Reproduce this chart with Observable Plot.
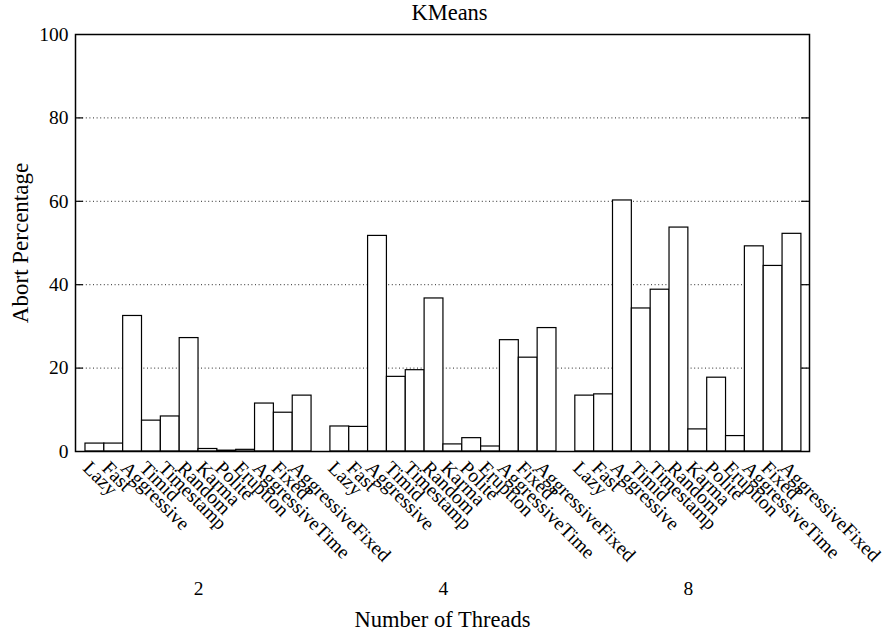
<!DOCTYPE html>
<html><head><meta charset="utf-8">
<script src="https://cdn.jsdelivr.net/npm/d3@7"></script>
<script src="https://cdn.jsdelivr.net/npm/@observablehq/plot@0.6"></script>
<style>html,body{margin:0;padding:0;background:#fff} #chart svg{display:block}</style>
</head><body><div id="chart"></div>
<script>
const title = "KMeans";
const yLabel = "Abort Percentage";
const xLabel = "Number of Threads";
const threads = ["2", "4", "8"];
const managers = ["Lazy","Fast","Aggressive","Timid","Timestamp","Random","Karma","Polite","Eruption","AggressiveTime","Fixed","AggressiveFixed"];
const values2 = [1.9, 1.9, 32.5, 7.4, 8.4, 27.2, 0.6, 0.2, 0.4, 11.5, 9.3, 13.4];
const values4 = [6.0, 5.9, 51.7, 17.9, 19.5, 36.7, 1.7, 3.2, 1.2, 26.7, 22.5, 29.6];
const values8 = [13.4, 13.7, 60.2, 34.3, 38.8, 53.7, 5.3, 17.7, 3.7, 49.2, 44.5, 52.2];
const yTicks = [0, 20, 40, 60, 80, 100];
const gridTicks = [20, 40, 60, 80];

const seriesByThread = [values2, values4, values8];
const groupStride = managers.length + 1;
const rows = [];
threads.forEach((t, gi) => {
  managers.forEach((m, i) => {
    rows.push({thread: t, manager: m, value: seriesByThread[gi][i], pos: gi * groupStride + i});
  });
});
const groups = threads.map((t, gi) => ({thread: t, pos: gi * groupStride + (managers.length - 1) / 2}));

const xMin = -1.03, xMax = 37.93;
const tickLen = 0.42;
const font = "'Liberation Serif', 'Times New Roman', Times, serif";

const chart = Plot.plot({
  width: 892,
  height: 634,
  marginLeft: 75,
  marginRight: 83,
  marginTop: 34,
  marginBottom: 183,
  style: {fontFamily: font, fontSize: "19px", color: "#000", background: "#fff"},
  x: {domain: [xMin, xMax], axis: null},
  y: {domain: [0, 100], axis: null},
  marks: [
    Plot.ruleY(gridTicks, {stroke: "#000", strokeWidth: 1, strokeDasharray: "1,2.6", strokeOpacity: 0.85}),
    Plot.rectY(rows, {x1: d => d.pos - 0.5, x2: d => d.pos + 0.5, y: "value", fill: "#fff", stroke: "#000", strokeWidth: 1.2}),
    Plot.ruleY(gridTicks, {x1: xMin, x2: xMin + tickLen, stroke: "#000", strokeWidth: 1.2}),
    Plot.ruleY(gridTicks, {x1: xMax - tickLen, x2: xMax, stroke: "#000", strokeWidth: 1.2}),
    Plot.frame({stroke: "#000", strokeWidth: 1.5}),
    Plot.axisY({ticks: yTicks, tickSize: 0, tickPadding: 7, fontSize: 19.5, label: null, fontFamily: font}),
    Plot.text(rows, {x: "pos", y: 0, text: "manager", rotate: 45, textAnchor: "start", lineAnchor: "top", dx: -3, dy: 8, fontSize: 19.5, fill: "#000"}),
    Plot.text(groups, {x: "pos", y: 0, text: "thread", dy: 137, fontSize: 19.5, fill: "#000"}),
    Plot.text([xLabel], {frameAnchor: "bottom", lineAnchor: "middle", dy: 168, fontSize: 22.5, fill: "#000"}),
    Plot.text([yLabel], {frameAnchor: "left", textAnchor: "middle", lineAnchor: "middle", rotate: -90, dx: -55, fontSize: 23, fill: "#000"}),
    Plot.text([title], {frameAnchor: "top", lineAnchor: "middle", dx: 7, dy: -22, fontSize: 22.5, fill: "#000"})
  ]
});
document.getElementById("chart").appendChild(chart);
</script>
</body></html>
